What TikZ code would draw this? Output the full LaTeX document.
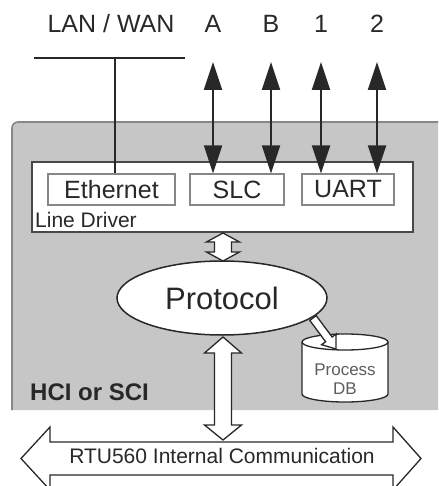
\documentclass[tikz,border=0pt]{standalone}
\usepackage{fontspec}
\setmainfont{Liberation Sans}
\usetikzlibrary{arrows.meta,shapes.geometric}
\definecolor{panel}{RGB}{198,198,198}
\definecolor{ink}{RGB}{40,40,40}
\definecolor{edge}{RGB}{135,135,135}
\begin{document}
\begin{tikzpicture}[x=1pt,y=-1pt,
  lbl/.style={font=\fontsize{25pt}{30pt}\selectfont, text=ink, inner sep=0pt},
  subbox/.style={draw=edge, line width=1.2pt, fill=white, minimum height=31pt, inner sep=0pt, font=\fontsize{25pt}{30pt}\selectfont, text=ink},
  sig/.style={draw=ink, line width=2pt, {Triangle[length=28pt,width=18pt]}-{Triangle[length=28pt,width=18pt]}},
  hollow/.style={draw=ink, line width=1.3pt, fill=white, line join=miter},
  wire/.style={draw=ink, line width=1.5pt},
]
\useasboundingbox (0,0) rectangle (438,486);

% grey panel (HCI or SCI)
\fill[panel] (12,410) -- (12,128) arc[start angle=180,end angle=270,radius=6] -- (438,122) -- (438,410) -- cycle;
\draw[edge, line width=1.6pt] (12,410) -- (12,128) arc[start angle=180,end angle=270,radius=6] -- (438,122);

% line driver box
\node[draw=ink!85, line width=1.5pt, fill=white, minimum width=381pt, minimum height=70pt, inner sep=0pt] (ld) at (222.5,197) {};
\node[subbox, minimum width=127pt] (eth) at (111.5,189.5) {Ethernet};
\node[subbox, minimum width=94pt] (slc) at (237,189.5) {SLC};
\node[subbox, minimum width=92pt] (uart) at (348,189.5) {UART};
\node[anchor=west, inner sep=0pt, font=\fontsize{21pt}{24pt}\selectfont, text=ink] (ldl) at (35,220) {Line Driver};

% top labels
\node[lbl] (lan) at (111,24) {LAN / WAN};
\node[lbl] (la) at (213,24) {A};
\node[lbl] (lb) at (271,24) {B};
\node[lbl] (l1) at (321,24) {1};
\node[lbl] (l2) at (377,24) {2};

% LAN / WAN bus
\coordinate (lanL) at (34,58);
\coordinate (lanR) at (185,58);
\coordinate (lanT) at (115,58);
\draw[wire] (lanL) -- (lanR);
\draw[wire] (lanT) -- (lanT |- eth.north);

% serial lines
\coordinate (ta) at (213,62);
\coordinate (tb) at (271,62);
\coordinate (t1) at (321,62);
\coordinate (t2) at (377,62);
\draw[sig] (ta) -- (ta |- slc.north);
\draw[sig] (tb) -- (tb |- slc.north);
\draw[sig] (t1) -- (t1 |- uart.north);
\draw[sig] (t2) -- (t2 |- uart.north);

% small hollow double arrow line driver <-> protocol
\filldraw[hollow] (223,233) -- (239.5,242) -- (231.5,242) -- (231.5,252) -- (239.5,252) -- (223,261)
  -- (206.5,252) -- (214.5,252) -- (214.5,242) -- (206.5,242) -- cycle;

% process DB cylinder
\filldraw[fill=white, draw=ink, line width=1.3pt] (302,342) -- (302,394)
  arc[start angle=180, end angle=0, x radius=43, y radius=8] -- (388,342)
  arc[start angle=0, end angle=-180, x radius=43, y radius=8] -- cycle;
\draw[ink, line width=1.3pt] (302,342) arc[start angle=180, end angle=0, x radius=43, y radius=8];
\node[font=\fontsize{17pt}{19pt}\selectfont, text=ink!75, align=center, inner sep=0pt] (db) at (345,379) {Process\\DB};

% hollow arrow protocol -> process DB
\filldraw[hollow] (309.8,320.4) -- (325.6,341.7) -- (321.6,344.7) -- (336,349) -- (336.1,334.0) -- (332.1,337.0) -- (316.2,315.6) -- cycle;

% big vertical double arrow
\filldraw[hollow] (223,337) -- (241.5,353) -- (231.5,353) -- (231.5,425) -- (241.5,425) -- (223,440)
  -- (204.5,425) -- (214.5,425) -- (214.5,353) -- (204.5,353) -- cycle;

% protocol
\node[ellipse, draw=ink, line width=1.5pt, fill=white, minimum width=210pt, minimum height=74pt, inner sep=0pt,
  font=\fontsize{31pt}{36pt}\selectfont, text=ink] (proto) at (222,298) {Protocol};

% HCI or SCI label
\node[anchor=west, inner sep=0pt, font=\bfseries\fontsize{24pt}{28pt}\selectfont, text=ink] (hci) at (30,392) {HCI or SCI};

% bottom internal communication bus
\filldraw[hollow] (21,458.5) -- (50,427) -- (50,442) -- (393,442) -- (393,427) -- (421,458.5)
  -- (393,490) -- (393,475) -- (50,475) -- (50,490) -- cycle;
\node[inner sep=0pt, font=\fontsize{21pt}{24pt}\selectfont, text=ink] (rtu) at (222,456) {RTU560 Internal Communication};
\end{tikzpicture}
\end{document}
